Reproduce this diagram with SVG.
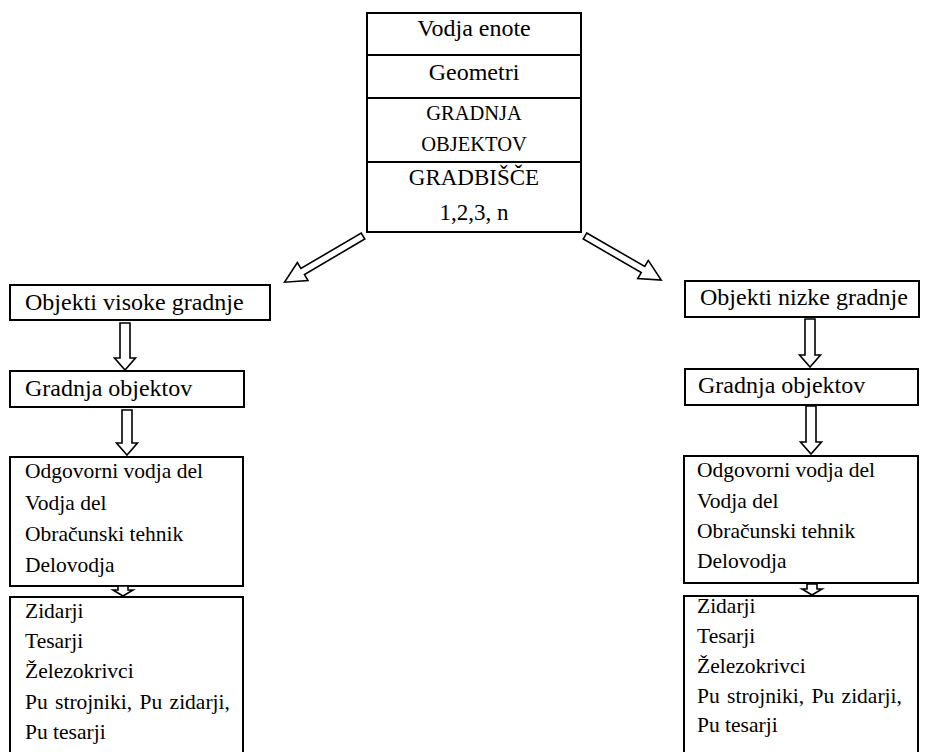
<svg xmlns="http://www.w3.org/2000/svg" width="929" height="752" viewBox="0 0 929 752">
  <style>
    .box { fill: #ffffff; stroke: #000000; stroke-width: 2; }
    .div { stroke: #000000; stroke-width: 2; }
    .arr { fill: #ffffff; stroke: #000000; stroke-width: 1.6; stroke-linejoin: miter; }
    .txt { font-family: Tinos, "Liberation Serif", "Times New Roman", Times, "Nimbus Roman", "Nimbus Roman No9 L", "DejaVu Serif", "Noto Serif", serif; fill: #000000; }
    .c { text-anchor: middle; }
    .t24 { font-size: 24px; }
    .t23 { font-size: 23px; }
    .t21 { font-size: 20.5px; }
    .t22 { font-size: 21.5px; }
  </style>
  <rect width="929" height="752" fill="#ffffff"/>

  <g class="txt">
    <!-- head of the unit, stacked cells -->
    <g id="unit">
      <rect class="box" x="367" y="13" width="214" height="219"/>
      <line class="div" x1="367" y1="55" x2="581" y2="55"/>
      <line class="div" x1="367" y1="98" x2="581" y2="98"/>
      <line class="div" x1="367" y1="162" x2="581" y2="162"/>
      <text class="c t24" x="474" y="36">Vodja enote</text>
      <text class="c t24" x="474" y="80">Geometri</text>
      <text class="c t21" x="474" y="120">GRADNJA</text>
      <text class="c t21" x="474" y="151">OBJEKTOV</text>
      <text class="c t23" x="474" y="185">GRADBIŠČE</text>
      <text class="c t23" x="474" y="220">1,2,3, n</text>
    </g>

    <!-- left branch -->
    <g id="visoke">
      <rect class="box" x="10" y="285" width="260" height="35"/>
      <text class="t24" x="25" y="310">Objekti visoke gradnje</text>
    </g>
    <g id="gradnja-left">
      <rect class="box" x="10" y="371" width="234" height="36"/>
      <text class="t24" x="25" y="396">Gradnja objektov</text>
    </g>
    <g id="vodstvo-left">
      <rect class="box" x="10" y="457" width="233" height="129"/>
      <text class="t22" x="25" y="478">Odgovorni vodja del</text>
      <text class="t22" x="25" y="510">Vodja del</text>
      <text class="t22" x="25" y="541">Obračunski tehnik</text>
      <text class="t22" x="25" y="572">Delovodja</text>
    </g>
    <g id="delavci-left">
      <rect class="box" x="10" y="597" width="233" height="170"/>
      <text class="t22" x="25" y="618">Zidarji</text>
      <text class="t22" x="25" y="648">Tesarji</text>
      <text class="t22" x="25" y="678">Železokrivci</text>
      <text class="t22" x="25" y="709" word-spacing="2">Pu strojniki, Pu zidarji,</text>
      <text class="t22" x="25" y="739">Pu tesarji</text>
    </g>

    <!-- right branch -->
    <g id="nizke">
      <rect class="box" x="685" y="281" width="234" height="36"/>
      <text class="t24" x="700" y="305">Objekti nizke gradnje</text>
    </g>
    <g id="gradnja-right">
      <rect class="box" x="685" y="369" width="233" height="36"/>
      <text class="t24" x="698" y="393">Gradnja objektov</text>
    </g>
    <g id="vodstvo-right">
      <rect class="box" x="684" y="456" width="234" height="127"/>
      <text class="t22" x="697" y="477">Odgovorni vodja del</text>
      <text class="t22" x="697" y="508">Vodja del</text>
      <text class="t22" x="697" y="538">Obračunski tehnik</text>
      <text class="t22" x="697" y="568">Delovodja</text>
    </g>
    <g id="delavci-right">
      <rect class="box" x="684" y="596" width="234" height="170"/>
      <text class="t22" x="697" y="613">Zidarji</text>
      <text class="t22" x="697" y="643">Tesarji</text>
      <text class="t22" x="697" y="673">Železokrivci</text>
      <text class="t22" x="697" y="703" word-spacing="2">Pu strojniki, Pu zidarji,</text>
      <text class="t22" x="697" y="732">Pu tesarji</text>
    </g>
  </g>

  <!-- block arrows -->
  <g id="connectors">
    <polygon class="arr" transform="translate(363,236) rotate(149.5)" points="0,-3.5 70,-3.5 70,-10.5 91,0 70,10.5 70,3.5 0,3.5"/>
    <polygon class="arr" transform="translate(585,236) rotate(30)" points="0,-3.5 67,-3.5 67,-10.5 88,0 67,10.5 67,3.5 0,3.5"/>

    <polygon class="arr" points="120,323 130,323 130,358 135.5,358 125,370 114.5,358 120,358"/>
    <polygon class="arr" points="122,410 132,410 132,443 137.5,443 127,455 116.5,443 122,443"/>
    <polygon class="arr" points="118,586 128,586 128,590 133,590 123,596 113,590 118,590"/>

    <polygon class="arr" points="805,319 815,319 815,355 820.5,355 810,367 799.5,355 805,355"/>
    <polygon class="arr" points="806,406 816,406 816,442 821.5,442 811,454 800.5,442 806,442"/>
    <polygon class="arr" points="807,584 817,584 817,589 822,589 812,595 802,589 807,589"/>
  </g>
</svg>
